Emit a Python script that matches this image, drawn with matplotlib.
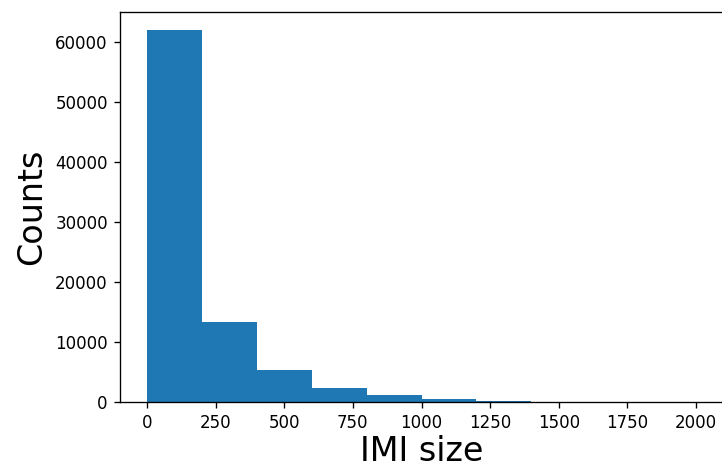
import matplotlib
matplotlib.use("Agg")
import matplotlib.pyplot as plt
import numpy as np

bin_edges = [0, 200, 400, 600, 800, 1000, 1200, 1400, 1600, 1800, 2000]
counts = [61900, 13280, 5350, 2400, 1180, 620, 290, 130, 50, 8]

centers = [(a + b) / 2 for a, b in zip(bin_edges[:-1], bin_edges[1:])]

dpi = 120
fig = plt.figure(figsize=(722 / dpi, 467 / dpi), dpi=dpi)
ax = fig.add_axes([119.5 / 722, 1 - 402.3 / 467, (723.5 - 119.5) / 722, (402.3 - 11.7) / 467])
ax.hist(centers, bins=bin_edges, weights=counts, color="#1f77b4")
ax.set_xlabel("IMI size", fontsize=20, labelpad=2)
ax.set_ylabel("Counts", fontsize=20)
ax.tick_params(labelsize=10)
fig.savefig("out.png", dpi=dpi)
